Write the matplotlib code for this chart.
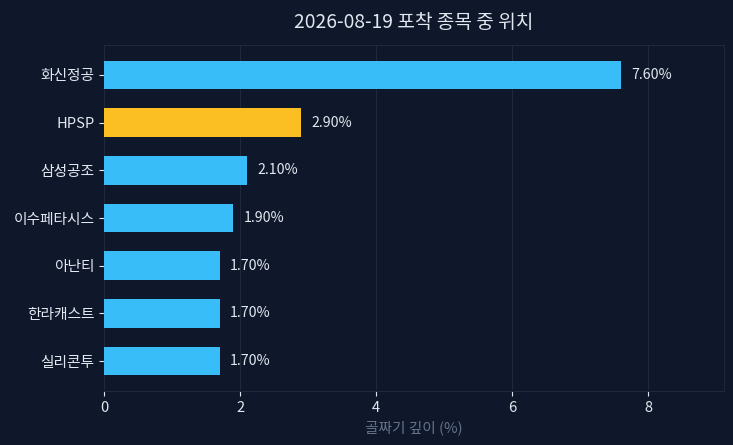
import matplotlib
matplotlib.use('Agg')
import matplotlib.pyplot as plt

plt.rcParams['font.family'] = ['Noto Sans CJK KR', 'DejaVu Sans']

names = ['화신정공', 'HPSP', '삼성공조', '이수페타시스', '아난티', '한라캐스트', '실리콘투']
depth = [7.6, 2.9, 2.1, 1.9, 1.7, 1.7, 1.7]
highlight = 'HPSP'

bg = '#0f172a'
fig, ax = plt.subplots(figsize=(7.33, 4.45), dpi=100)
fig.patch.set_facecolor(bg)
ax.set_facecolor(bg)

colors = ['#fbbf24' if n == highlight else '#38bdf8' for n in names]
ypos = list(range(len(names)))[::-1]
bars = ax.barh(ypos, depth, height=0.6, color=colors, zorder=3)

for rect, v in zip(bars, depth):
    ax.text(rect.get_width() + 0.15, rect.get_y() + rect.get_height() / 2,
            '%.2f%%' % v, va='center', ha='left', color='#e2e8f0', fontsize=10.2)

ax.set_yticks(ypos)
ax.set_yticklabels(names)
ax.set_xlim(0, max(depth) * 1.2)
ax.set_xticks([0, 2, 4, 6, 8])

ax.grid(axis='x', color='#1e293b', linewidth=0.8, zorder=0)
for s in ax.spines.values():
    s.set_color('#1e293b')
ax.tick_params(colors='#e2e8f0', labelsize=10.6)

ax.set_title('2026-08-19 포착 종목 중 위치', color='#e2e8f0', fontsize=13.8, pad=12)
ax.set_xlabel('골짜기 깊이 (%)', color='#64748b', fontsize=10.6)

plt.subplots_adjust(left=0.142, right=0.988, top=0.899, bottom=0.121)
plt.savefig('out.png', dpi=100, facecolor=bg)
